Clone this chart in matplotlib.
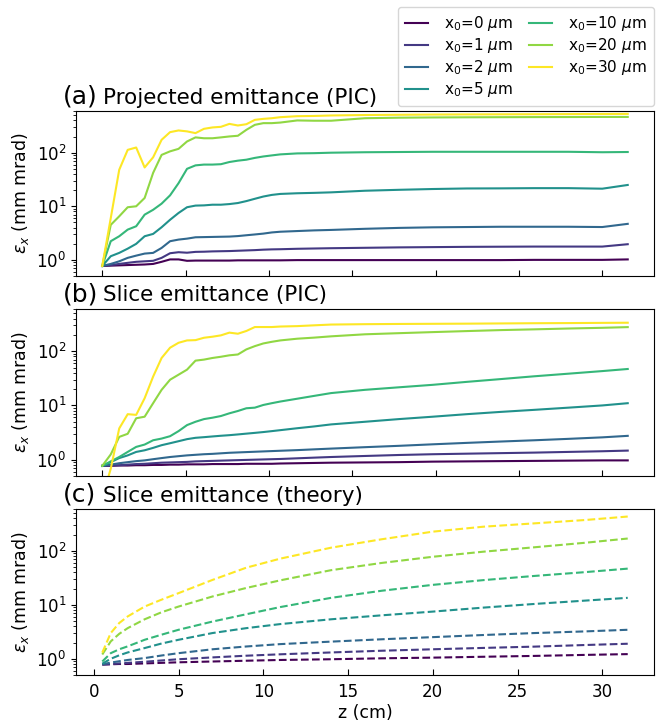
import numpy as np
import matplotlib
matplotlib.use("Agg")
import matplotlib.pyplot as plt
from matplotlib.ticker import LogLocator, NullFormatter

# ---------------- data ----------------
x0_labels = ["0", "1", "2", "5", "10", "20", "30"]

# PIC z grid (cm)
z_pic = [0.5, 1.0, 1.5, 2.0, 2.5, 3.0, 3.5, 4.0, 4.5, 5.0, 5.5, 6.0, 6.5, 7.0, 7.5,
         8.0, 8.5, 9.0, 9.5, 10.0, 10.5,
         11, 12, 13, 14, 16, 18, 20, 22, 24, 26, 28, 30, 31.5]

# (a) projected emittance (PIC), mm mrad
proj_x0_0 = [0.77, 0.78, 0.79, 0.80, 0.81, 0.82, 0.84, 0.92, 1.02, 1.02, 0.96, 0.97, 0.97, 0.97, 0.97,
             0.97, 0.98, 0.98, 0.98, 0.98, 0.98,
             0.98, 0.99, 0.99, 0.99, 0.99, 0.99, 0.99, 0.99, 0.99, 1.0, 1.0, 1.0, 1.02]
proj_x0_1 = [0.77, 0.80, 0.84, 0.88, 0.92, 0.94, 0.96, 1.09, 1.33, 1.39, 1.36, 1.41, 1.42, 1.44, 1.45,
             1.46, 1.48, 1.50, 1.52, 1.55, 1.57,
             1.58, 1.61, 1.63, 1.65, 1.68, 1.71, 1.73, 1.75, 1.76, 1.77, 1.77, 1.77, 1.96]
proj_x0_2 = [0.77, 0.84, 0.94, 1.09, 1.20, 1.31, 1.35, 1.67, 2.23, 2.39, 2.49, 2.64, 2.66, 2.68, 2.70,
             2.72, 2.78, 2.88, 2.98, 3.09, 3.25,
             3.35, 3.45, 3.55, 3.62, 3.8, 3.95, 4.05, 4.1, 4.15, 4.15, 4.15, 4.1, 4.7]
proj_x0_5 = [0.77, 1.17, 1.35, 1.62, 1.99, 2.76, 3.05, 4.06, 5.6, 7.5, 9.6, 10.3, 10.4, 10.7, 10.7,
             11.0, 11.5, 12.5, 13.8, 15.2, 16.3,
             17.0, 17.5, 17.8, 18.2, 19.5, 20.3, 21.0, 21.5, 21.6, 21.8, 21.8, 21.3, 25.0]
proj_x0_10 = [0.77, 2.23, 2.76, 3.67, 4.24, 6.98, 8.6, 11.2, 16, 27, 50, 58, 60, 60, 61,
              67, 71, 74, 80, 85, 89,
              93, 97, 98, 100, 102, 103, 104, 104, 104, 104, 104, 102, 103]
proj_x0_20 = [0.77, 4.5, 6.5, 9.6, 10, 14.3, 42, 91, 106, 118, 162, 193, 186, 186, 193,
              201, 207, 267, 331, 356, 356,
              365, 400, 395, 395, 440, 450, 455, 458, 460, 462, 463, 465, 465]
proj_x0_30 = [0.77, 6, 48, 113, 125, 53, 82, 174, 242, 260, 250, 232, 279, 296, 304,
              345, 322, 340, 410, 428, 440,
              460, 480, 485, 495, 505, 510, 515, 518, 520, 522, 525, 528, 530]

# (b) slice emittance (PIC), mm mrad
slice_x0_0 = [0.77, 0.77, 0.78, 0.78, 0.79, 0.79, 0.80, 0.80, 0.81, 0.81, 0.82, 0.82, 0.82, 0.83, 0.83,
              0.83, 0.83, 0.84, 0.84, 0.84, 0.84,
              0.85, 0.86, 0.87, 0.88, 0.89, 0.90, 0.92, 0.93, 0.94, 0.95, 0.96, 0.97, 0.97]
slice_x0_1 = [0.77, 0.78, 0.79, 0.81, 0.83, 0.84, 0.86, 0.88, 0.89, 0.90, 0.91, 0.93, 0.94, 0.95, 0.96,
              0.97, 0.98, 0.99, 1.0, 1.01, 1.02,
              1.03, 1.06, 1.09, 1.12, 1.17, 1.22, 1.26, 1.29, 1.32, 1.35, 1.39, 1.43, 1.47]
slice_x0_2 = [0.77, 0.81, 0.86, 0.90, 0.94, 0.97, 1.02, 1.07, 1.12, 1.16, 1.20, 1.23, 1.26, 1.28, 1.31,
              1.34, 1.36, 1.38, 1.40, 1.42, 1.44,
              1.46, 1.50, 1.55, 1.60, 1.70, 1.80, 1.92, 2.04, 2.16, 2.28, 2.42, 2.58, 2.75]
slice_x0_5 = [0.77, 0.90, 1.07, 1.20, 1.39, 1.49, 1.65, 1.85, 2.01, 2.19, 2.39, 2.53, 2.60, 2.68, 2.76,
              2.83, 2.92, 3.02, 3.12, 3.23, 3.36,
              3.5, 3.8, 4.1, 4.47, 5.0, 5.6, 6.2, 6.9, 7.6, 8.3, 9.1, 10.0, 11.0]
slice_x0_10 = [0.77, 0.93, 1.12, 1.39, 1.72, 1.90, 2.28, 2.45, 2.71, 3.36, 4.34, 5.0, 5.6, 5.94, 6.38,
               7.16, 7.9, 8.87, 9.1, 10.2, 11.0,
               11.8, 13.3, 15.0, 16.9, 19.4, 21.6, 24.0, 27.2, 30.6, 34.5, 38.5, 43, 47]
slice_x0_20 = [0.77, 1.25, 2.63, 3.0, 5.8, 6.2, 11, 19.4, 29.8, 36.9, 45.7, 67, 70, 75, 79,
               84, 87, 108, 124, 139, 149,
               158, 170, 178, 188, 205, 215, 225, 235, 245, 253, 262, 270, 278]
slice_x0_30 = [0.2, 0.68, 3.77, 6.9, 6.7, 13.6, 34, 75, 116, 143, 158, 160, 177, 185, 196,
               220, 210, 236, 279, 279, 279,
               285, 290, 300, 310, 315, 318, 320, 322, 325, 328, 330, 333, 335]

# (c) slice emittance (theory)
z_th = [0.5, 1, 1.5, 2, 3, 4, 5, 7, 9, 11, 14, 17, 20, 23, 26, 29, 31.5]
th_x0_0 = [0.78, 0.79, 0.80, 0.80, 0.82, 0.84, 0.86, 0.89, 0.92, 0.95, 0.98, 1.02, 1.05, 1.09, 1.13, 1.18, 1.22]
th_x0_1 = [0.78, 0.80, 0.82, 0.84, 0.88, 0.93, 0.98, 1.06, 1.14, 1.21, 1.31, 1.41, 1.50, 1.59, 1.68, 1.80, 1.90]
th_x0_2 = [0.79, 0.85, 0.90, 0.95, 1.03, 1.15, 1.27, 1.50, 1.69, 1.87, 2.08, 2.30, 2.52, 2.76, 3.0, 3.22, 3.45]
th_x0_5 = [0.81, 1.0, 1.16, 1.31, 1.58, 1.92, 2.25, 3.0, 3.7, 4.4, 5.4, 6.4, 7.5, 8.9, 10.4, 12.0, 13.5]
th_x0_10 = [0.89, 1.27, 1.5, 1.7, 2.25, 2.8, 3.45, 4.9, 6.7, 9.1, 13.5, 18.3, 23.5, 28.8, 34.4, 40.5, 47]
th_x0_20 = [1.2, 2.1, 2.9, 3.7, 5.4, 7.3, 9.3, 14.3, 20.6, 28.5, 44, 60, 78, 97, 117, 142, 170]
th_x0_30 = [1.3, 3.0, 4.6, 6.1, 9.3, 12.5, 16.5, 29, 49, 72, 115, 165, 228, 282, 325, 375, 435]

proj = [proj_x0_0, proj_x0_1, proj_x0_2, proj_x0_5, proj_x0_10, proj_x0_20, proj_x0_30]
slic = [slice_x0_0, slice_x0_1, slice_x0_2, slice_x0_5, slice_x0_10, slice_x0_20, slice_x0_30]
theo = [th_x0_0, th_x0_1, th_x0_2, th_x0_5, th_x0_10, th_x0_20, th_x0_30]

# ---------------- figure ----------------
W, H = 662, 721
fig = plt.figure(figsize=(W / 100, H / 100), dpi=100)

left = 76 / W
width = (654 - 76) / W
boxes = [(111, 276), (309, 476), (509, 675)]
axes = []
for top, bot in boxes:
    ax = fig.add_axes([left, 1 - bot / H, width, (bot - top) / H])
    axes.append(ax)

colors = plt.cm.viridis(np.linspace(0, 1, 7))

for i in range(7):
    axes[0].plot(z_pic, proj[i], color=colors[i], lw=1.5,
                 label=r"x$_0$=" + x0_labels[i] + r" $\mu$m")
    axes[1].plot(z_pic, slic[i], color=colors[i], lw=1.5)
    axes[2].plot(z_th, theo[i], color=colors[i], lw=1.5, ls="--")

titles = [("(a)", "Projected emittance (PIC)"),
          ("(b)", "Slice emittance (PIC)"),
          ("(c)", "Slice emittance (theory)")]

for k, ax in enumerate(axes):
    ax.set_yscale("log")
    ax.set_ylim(0.5, 600)
    ax.set_xlim(-1.05, 33.05)
    ax.set_yticks([1, 10, 100])
    ax.yaxis.set_minor_locator(LogLocator(base=10, subs=np.arange(2, 10) * 1.0, numticks=20))
    ax.yaxis.set_minor_formatter(NullFormatter())
    ax.tick_params(axis="y", which="major", direction="out", length=3.5, labelsize=12)
    ax.tick_params(axis="y", which="minor", direction="out", length=2)
    ax.tick_params(axis="x", which="major", direction="in", length=4, labelsize=12, pad=6)
    ax.set_ylabel(r"$\varepsilon_x$ (mm mrad)", fontsize=12.5, labelpad=4)
    hpx = boxes[k][1] - boxes[k][0]
    yb = 1 + 7.5 / hpx
    ax.text(-13 / (width * W), yb, titles[k][0], transform=ax.transAxes,
            fontsize=18, ha="left", va="baseline")
    ax.text(27 / (width * W), yb, titles[k][1], transform=ax.transAxes,
            fontsize=15.5, ha="left", va="baseline")

for ax in axes[:2]:
    ax.set_xticks(np.linspace(0.5, 30.0, 7))
    ax.set_xticklabels([])

axes[2].set_xticks([0, 5, 10, 15, 20, 25, 30])
axes[2].set_xlabel("z (cm)", fontsize=12.5, labelpad=2)

fig.legend(*axes[0].get_legend_handles_labels(), loc="upper right",
           bbox_to_anchor=(654 / W, 1 - 7 / H), borderaxespad=0, ncol=2,
           fontsize=11, handlelength=1.5, handletextpad=1.1, columnspacing=1.0,
           labelspacing=0.2, borderpad=0.45, frameon=True)

fig.savefig("out.png", dpi=100)
